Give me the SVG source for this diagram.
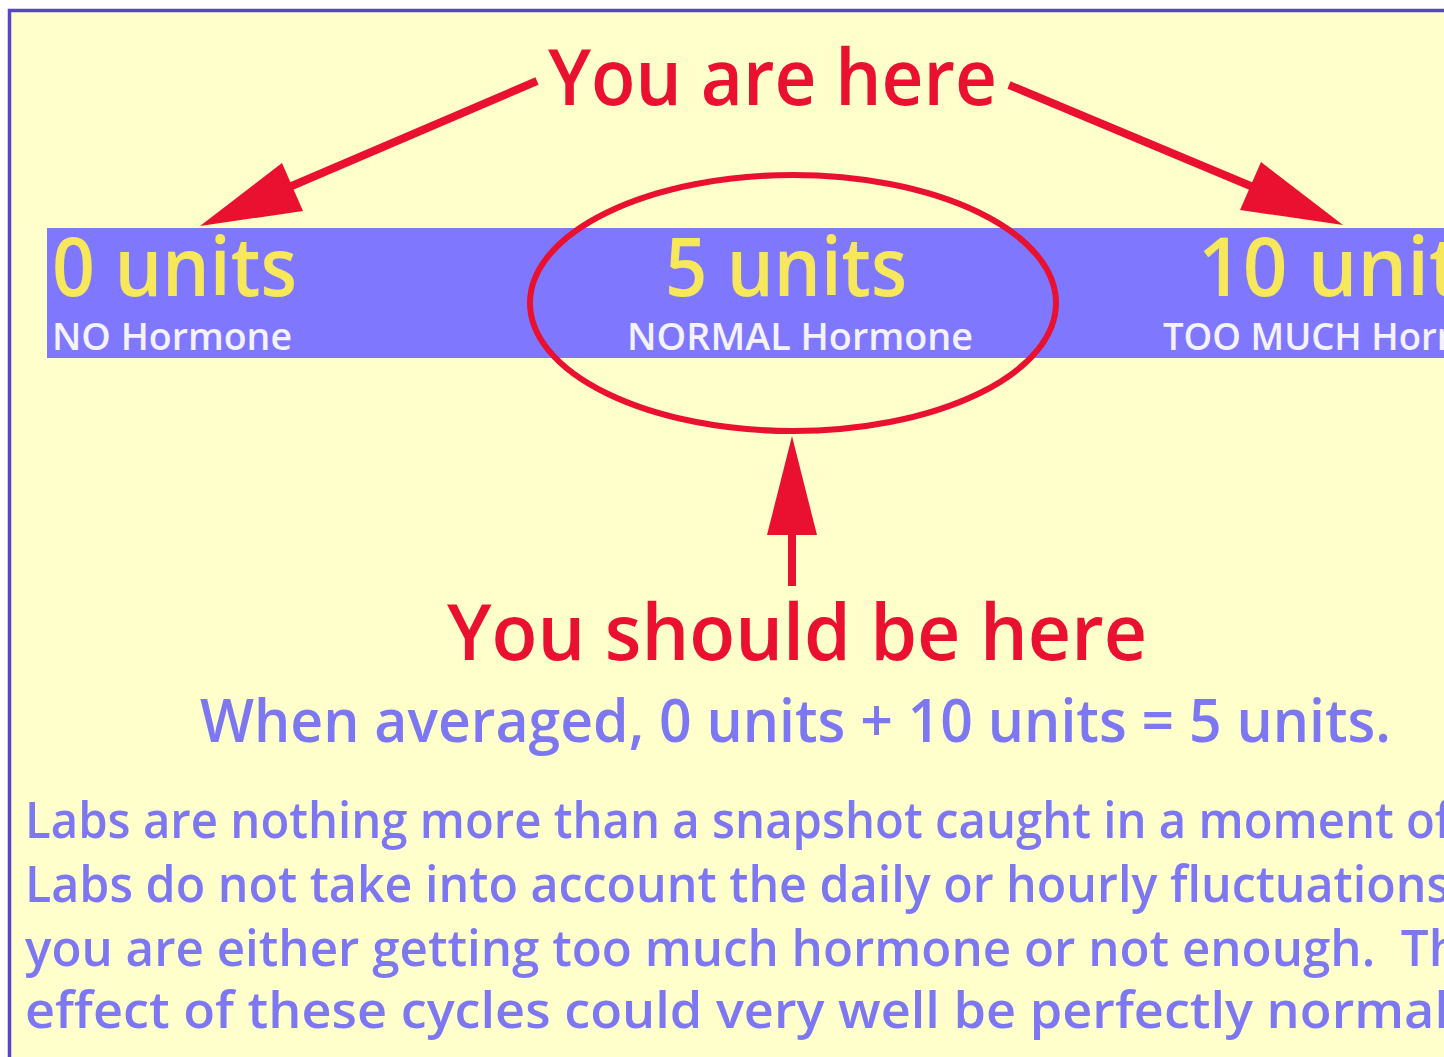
<svg xmlns="http://www.w3.org/2000/svg" width="1444" height="1057" viewBox="0 0 1444 1057">
<style>
  .f { font-family: "Open Sans", "Liberation Sans", sans-serif; font-weight: 600; }
  .units { fill: #F6E85A; font-size: 82px; }
  .sub { fill: #F4F2FF; font-size: 38px; }
  .red { fill: #EA1030; font-size: 78px; }
  .blue { fill: #7D78F2; }
  .para { font-size: 50px; }
  .arrow { stroke: #EA1030; stroke-width: 8; fill: none; }
  .head { fill: #EA1030; }
</style>
<rect x="0" y="0" width="1444" height="1057" fill="#FFFFFF"/>
<rect x="9.5" y="10.5" width="1460" height="1070" fill="#FFFFCC" stroke="#5548C0" stroke-width="3.5"/>

<g id="bar">
  <rect x="47" y="228" width="1420" height="130" fill="#7F78FF"/>
</g>

<g id="node-0">
  <text class="f units" x="52" y="296" textLength="245" lengthAdjust="spacingAndGlyphs">0 units</text>
  <text class="f sub" x="52" y="350" textLength="240" lengthAdjust="spacingAndGlyphs">NO Hormone</text>
</g>
<g id="node-5">
  <text class="f units" x="665" y="296" textLength="242" lengthAdjust="spacingAndGlyphs">5 units</text>
  <text class="f sub" x="627" y="350" textLength="346" lengthAdjust="spacingAndGlyphs">NORMAL Hormone</text>
</g>
<g id="node-10">
  <text class="f units" x="1198" y="296" textLength="300" lengthAdjust="spacingAndGlyphs">10 units</text>
  <text class="f sub" x="1163" y="350" textLength="375" lengthAdjust="spacingAndGlyphs">TOO MUCH Hormone</text>
</g>

<g id="you-are-here">
  <text class="f red" x="548" y="105" textLength="449" lengthAdjust="spacingAndGlyphs">You are here</text>
</g>

<g id="highlight">
  <ellipse cx="793" cy="303" rx="263" ry="128" fill="none" stroke="#EA1030" stroke-width="6"/>
</g>

<g id="connectors">
  <line class="arrow" x1="537" y1="81" x2="280" y2="191"/>
  <polygon class="head" points="200,226 282,163 303,211"/>
  <line class="arrow" x1="1009" y1="85" x2="1265" y2="192"/>
  <polygon class="head" points="1343,225 1261,162 1240,210"/>
  <line class="arrow" x1="792" y1="586" x2="792" y2="520"/>
  <polygon class="head" points="792,436 767,535 817,535"/>
</g>

<g id="you-should-be-here">
  <text class="f red" x="447" y="660" textLength="700" lengthAdjust="spacingAndGlyphs">You should be here</text>
</g>

<g id="average">
  <text class="f blue" x="200" y="742" font-size="60" textLength="1191" lengthAdjust="spacingAndGlyphs">When averaged, 0 units + 10 units = 5 units.</text>
</g>

<g id="paragraph">
  <text class="f blue para" x="25" y="838" textLength="1427" lengthAdjust="spacingAndGlyphs">Labs are nothing more than a snapshot caught in a moment of</text>
  <text class="f blue para" x="25" y="902" textLength="1425" lengthAdjust="spacingAndGlyphs">Labs do not take into account the daily or hourly fluctuations</text>
  <text class="f blue para" x="25" y="966" textLength="1435" lengthAdjust="spacingAndGlyphs">you are either getting too much hormone or not enough.&#160; Th</text>
  <text class="f blue para" x="25" y="1028" textLength="1424" lengthAdjust="spacingAndGlyphs">effect of these cycles could very well be perfectly normal</text>
</g>
</svg>
